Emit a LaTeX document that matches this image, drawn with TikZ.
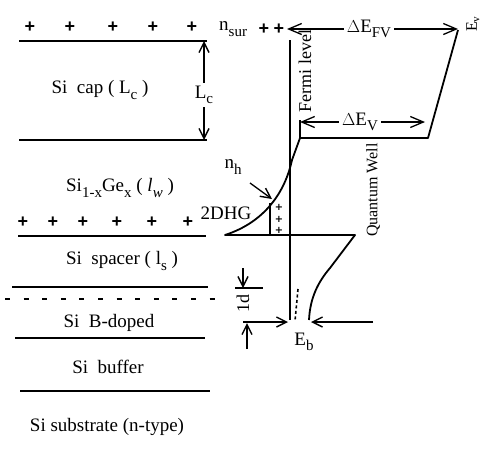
\documentclass[tikz,border=0pt]{standalone}
\usepackage{fontspec}
\setmainfont{Liberation Serif}
\newfontfamily\plusfont{Liberation Sans}
\newfontfamily\splusfont{DejaVu Sans}
\newcommand\sbs[1]{\raisebox{-0.28em}{\fontsize{15}{15}\selectfont #1}}
\usetikzlibrary{arrows.meta}
\begin{document}
\begin{tikzpicture}[x=1pt,y=-1pt,
  lay/.style={line width=1.3pt},
  band/.style={line width=1.8pt, line join=round},
  lbl/.style={font=\fontsize{19}{22}\selectfont, inner sep=0pt},
  albl/.style={font=\fontsize{19}{22}\selectfont, inner sep=3pt},
  rlbl/.style={font=\fontsize{16}{19}\selectfont, inner sep=0pt, rotate=90},
  plus/.style={font=\plusfont\fontsize{18}{18}\selectfont\bfseries, inner sep=0pt},
  splus/.style={font=\splusfont\fontsize{9.8}{11.5}\selectfont\bfseries, inner sep=0pt, align=center},
  barb/.style={line width=1.3pt, -{Straight Barb[length=13pt,width=11pt,line width=1.3pt]}},
  sbarb/.style={line width=1.3pt, -{Straight Barb[length=10pt,width=10pt,line width=1.4pt]}},
]
\useasboundingbox (0,0) rectangle (481,459);
% ---------- layer boundaries ----------
\draw[lay] (19,41) -- (207,41);
\draw[lay] (19,140) -- (207,140);
\draw[lay] (18,236) -- (206,236);
\draw[lay] (12,287) -- (208,287);
\draw[lay, dash pattern=on 5pt off 13.6pt] (5,299) -- (215,299);
\draw[lay] (15,338) -- (205,338);
\draw[lay] (20,391) -- (210,391);
% ---------- layer labels ----------
\node[lbl] (cap) at (100,90) {Si\ \ cap ( L\sbs{c} )};
\node[lbl] (sige) at (120,188) {Si\sbs{1-x}Ge\sbs{x} ( \textit{l}\sbs{\textit{w}} )};
\node[lbl] (spacer) at (122,261) {Si\ \ spacer ( l\sbs{s} )};
\node[lbl] (bdoped) at (109,323) {Si\ \ B-doped};
\node[lbl] (buffer) at (108,367) {Si\ \ buffer};
\node[lbl] (subs) at (107,427) {Si substrate (n-type)};
% ---------- surface charges ----------
\foreach \x [count=\i] in {30,70,113,153,192} \node[plus] (pt\i) at (\x,27) {+};
\foreach \x [count=\i] in {23,53,83,117,152,188} \node[plus] (pm\i) at (\x,222) {+};
\node[lbl, anchor=west] (nsur) at (219,29) {n\sbs{sur}};
\node[plus] (ps1) at (264,29) {+};
\node[plus] (ps2) at (279,29) {+};
% ---------- L_c ----------
\node[albl] (lc) at (204,95) {L\sbs{c}};
\coordinate (lctop) at (204,41);
\coordinate (lcbot) at (204,140);
\draw[sbarb] (lc) -- (lctop);
\draw[sbarb] (lc) -- (lcbot);
% ---------- band diagram ----------
\coordinate (Ev) at (458,30);
\coordinate (vb1) at (428,138);
\coordinate (vb2) at (300,138);
\coordinate (vtick) at (300,120);
\coordinate (qwL) at (225,235);
\coordinate (qwR) at (355,235);
\coordinate (cb1) at (330,268);
\coordinate (cbend) at (309,320);
\draw[band] (Ev) -- (vb1) -- (vb2) -- (292,160)
  .. controls (285,192) and (265,222) .. (qwL) -- (qwR) -- (cb1)
  .. controls (318,282) and (310,298) .. (cbend);
\draw[band] (vb2) -- (vtick);
% Fermi level
\coordinate (ftop) at (290,40);
\coordinate (fbot) at (290,320);
\draw[line width=1.5pt] (ftop) -- (fbot);
\node[font=\fontsize{18}{20}\selectfont, inner sep=0pt, rotate=90] (fermi) at (305,71) {Fermi level};
% 2DHG
\coordinate (hg1) at (270,203);
\coordinate (hg2) at (270,235);
\draw[line width=1.5pt] (hg1) -- (hg2);
\node[splus] (ph) at (279,219) {+\\+\\+};
\node[lbl] (dhg) at (226,213) {2DHG};
\node[lbl] (nh) at (233,167) {n\sbs{h}};
\coordinate (nhs) at (250,183);
\coordinate (nht) at (272,199);
\draw[sbarb] (nhs) -- (nht);
% Delta E_FV
\node[albl] (dfv) at (369,29) {$\Delta$E\sbs{FV}};
\coordinate (fvL) at (287,29);
\coordinate (fvR) at (458,29);
\draw[barb] (dfv) -- (fvL);
\draw[barb] (dfv) -- (fvR);
\node[font=\fontsize{16}{19}\selectfont, inner sep=0pt, rotate=90] (evl) at (473,24) {E\textsubscript{v}};
% Delta E_V
\node[albl] (dv) at (360,122) {$\Delta$E\sbs{V}};
\coordinate (vL) at (300,122);
\coordinate (vR) at (425,122);
\draw[barb] (dv) -- (vL);
\draw[barb] (dv) -- (vR);
\node[rlbl] (qw) at (373,190) {Quantum Well};
% 1d
\node[font=\fontsize{18}{20}\selectfont, inner sep=0pt, rotate=90] (od) at (243,303) {1d};
\coordinate (d1s) at (243,268);
\coordinate (d1t) at (243,288);
\draw[sbarb] (d1s) -- (d1t);
\draw[lay] (235,288) -- (263,288);
\coordinate (d2s) at (247,349);
\coordinate (d2t) at (247,323);
\draw[sbarb] (d2s) -- (d2t);
\coordinate (ebL) at (243,322);
\coordinate (ebLt) at (288,322);
\draw[sbarb] (ebL) -- (ebLt);
\draw[line width=1.6pt, dash pattern=on 3pt off 2.5pt] (298,289) -- (295,321);
\coordinate (ebR) at (373,322);
\coordinate (ebRt) at (311,322);
\draw[sbarb] (ebR) -- (ebRt);
\node[lbl] (eb) at (304,342) {E\sbs{b}};
\end{tikzpicture}
\end{document}
